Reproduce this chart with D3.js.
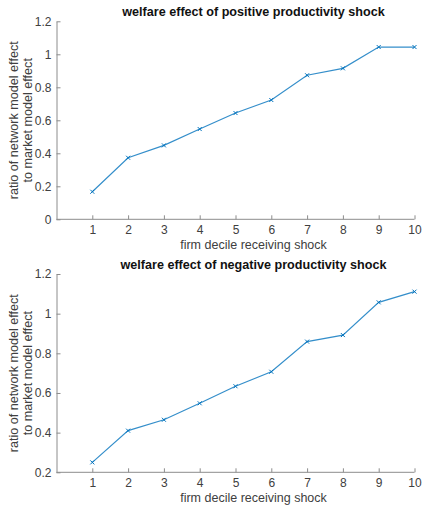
<!DOCTYPE html>
<html><head><meta charset="utf-8">
<script src="https://cdn.jsdelivr.net/npm/d3@7"></script>
<style>body{margin:0;background:#fff}svg{display:block}</style>
</head><body>
<script>
const deciles = [1,2,3,4,5,6,7,8,9,10];
const positiveShock = [0.167,0.373,0.448,0.547,0.644,0.723,0.873,0.915,1.044,1.044];
const negativeShock = [0.250,0.410,0.465,0.548,0.634,0.707,0.859,0.892,1.057,1.111];
const xTicks = [1,2,3,4,5,6,7,8,9,10];
const yTicksTop = [0,0.2,0.4,0.6,0.8,1,1.2];
const yTicksBottom = [0.2,0.4,0.6,0.8,1,1.2];
const titles = ["welfare effect of positive productivity shock","welfare effect of negative productivity shock"];
const xLabel = "firm decile receiving shock";
const yLabel = ["ratio of network model effect","to market model effect"];

const W=424,H=505;
const FF="Liberation Sans, Arial, sans-serif";
const svg=d3.select("body").append("svg").attr("width",W).attr("height",H)
  .style("font-family",FF);

const panels=[
  {vals:positiveShock,dom:[0,1.2],ticks:yTicksTop,top:21.3,bottom:219.3,title:titles[0]},
  {vals:negativeShock,dom:[0.2,1.2],ticks:yTicksBottom,top:274,bottom:472.3,title:titles[1]}
];
const x=d3.scaleLinear().domain([0,10]).range([56.5,414.5]);
const axisCol="#8c8c8c", textCol="#404040", lineCol="#0072BD";

panels.forEach(p=>{
  const y=d3.scaleLinear().domain(p.dom).range([p.bottom,p.top]);
  const g=svg.append("g");
  const xa=g.append("g").attr("transform",`translate(0,${p.bottom})`)
    .call(d3.axisBottom(x).tickValues(xTicks).tickSizeInner(-4).tickSizeOuter(0).tickPadding(6).tickFormat(d3.format("d")));
  xa.select(".domain").attr("d",`M${x(0)},0H${x(10)}`);
  const ya=g.append("g").attr("transform",`translate(${x(0)},0)`)
    .call(d3.axisLeft(y).tickValues(p.ticks).tickSizeInner(-4).tickSizeOuter(0).tickPadding(5).tickFormat(d=>d3.format("")(d)));
  [xa,ya].forEach(a=>{
    a.selectAll(".domain").attr("stroke",axisCol).attr("stroke-width",1);
    a.selectAll(".tick line").attr("stroke",axisCol);
    a.selectAll(".tick text").attr("fill",textCol).style("font-size","12px").style("font-family",FF);
  });
  const line=d3.line().x((d,i)=>x(deciles[i])).y(d=>y(d));
  g.append("path").datum(p.vals).attr("d",line).attr("fill","none")
    .attr("stroke",lineCol).attr("stroke-width",1.2).attr("stroke-opacity",0.8);
  const s=2;
  g.selectAll(".mk").data(p.vals).enter().append("path")
    .attr("d",(d,i)=>{const cx=x(deciles[i]),cy=y(d);return `M${cx-s},${cy-s}L${cx+s},${cy+s}M${cx-s},${cy+s}L${cx+s},${cy-s}`;})
    .attr("stroke",lineCol).attr("stroke-width",1);
  g.append("text").attr("x",253.5).attr("y",p.top-5.5).attr("text-anchor","middle")
    .style("font-weight","bold").style("font-size","12.6px").attr("fill","#111").text(p.title);
  g.append("text").attr("x",253.5).attr("y",p.bottom+30).attr("text-anchor","middle")
    .style("font-size","12.5px").attr("fill",textCol).text(xLabel);
  const cy=(p.top+p.bottom)/2;
  const yl=g.append("text").attr("transform",`translate(18,${cy}) rotate(-90)`).attr("text-anchor","middle")
    .style("font-size","12.6px").attr("fill",textCol);
  yl.append("tspan").attr("x",0).attr("dy",0).text(yLabel[0]);
  yl.append("tspan").attr("x",0).attr("dy",14).text(yLabel[1]);
});
</script>
</body></html>
